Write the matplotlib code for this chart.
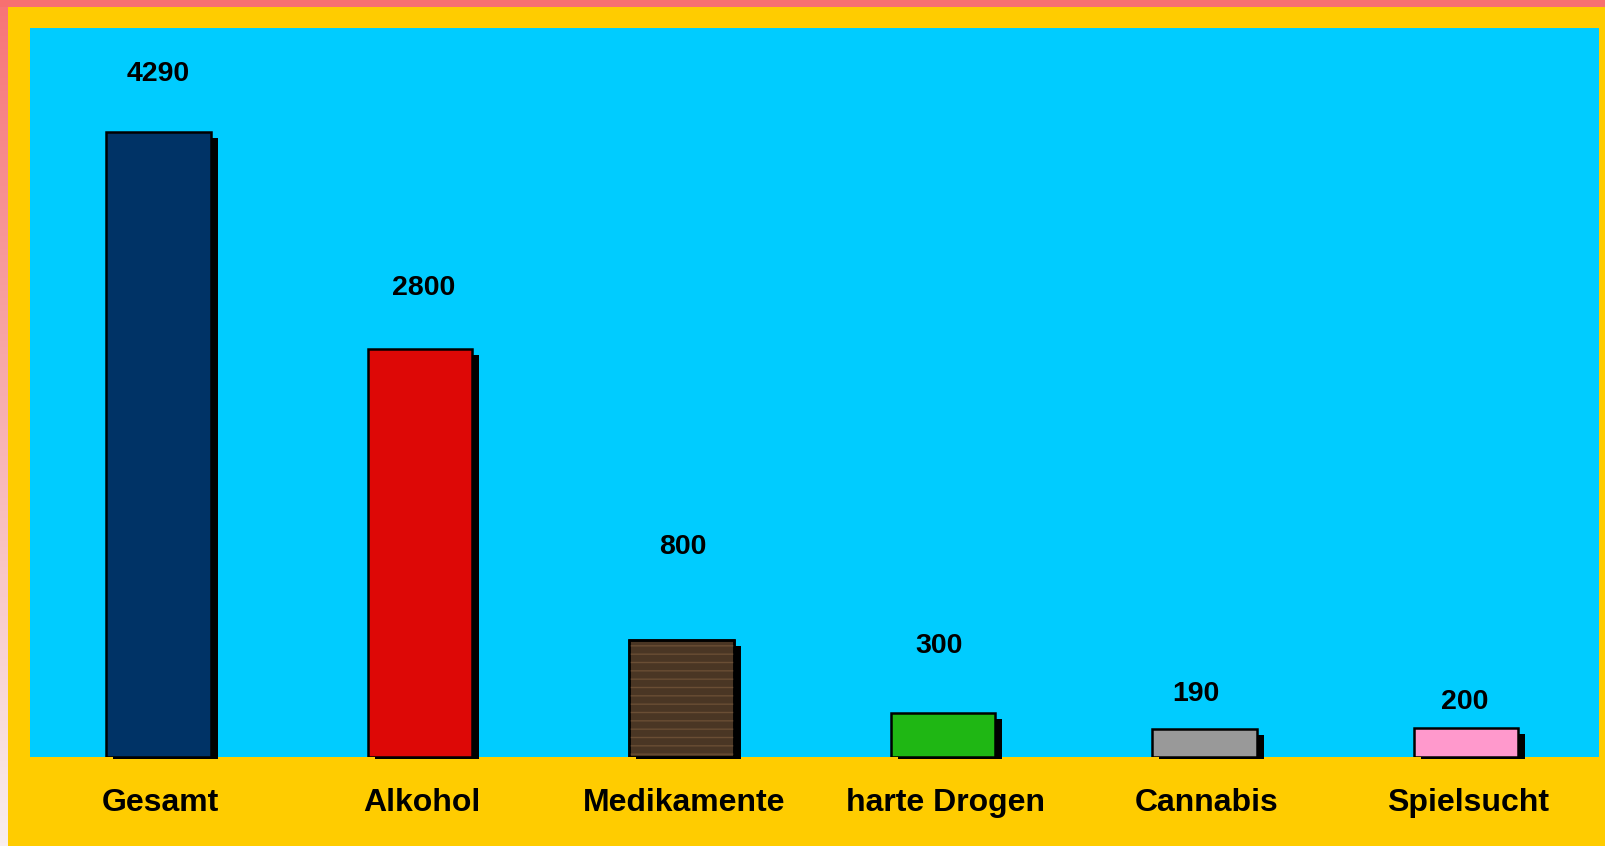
import numpy as np
import matplotlib
matplotlib.use("Agg")
import matplotlib.pyplot as plt
from matplotlib.transforms import ScaledTranslation

# data
categories = ["Gesamt", "Alkohol", "Medikamente", "harte Drogen", "Cannabis", "Spielsucht"]
values = [4290, 2800, 800, 300, 190, 200]
bar_colors = ["#003366", "#DD0806", "#4A3624", "#1FB714", "#999999", "#FF99CC"]
# value labels do not sit at a fixed gap above the bars in the original
label_y = [4684, 3220, 1443, 762, 431, 375]
label_dx = [0.0, 0.015, 0.004, -0.015, -0.035, -0.004]

W, H = 1605, 846
fig = plt.figure(figsize=(W / 100, H / 100), dpi=100)
fig.patch.set_facecolor("#FFCC00")

# coral strip on top, fading strip on the left
top = fig.add_axes([0, 1 - 7 / H, 1, 7 / H])
top.set_axis_off()
top.add_patch(plt.Rectangle((0, 0), 1, 1, color="#F77070", transform=top.transAxes))
left = fig.add_axes([0, 0, 8 / W, 1 - 7 / H])
grad = np.linspace(0, 1, 256).reshape(-1, 1)
c0 = np.array([0xF7, 0x75, 0x78]) / 255
c1 = np.array([0xF9, 0xEE, 0xEE]) / 255
img = c0[None, None, :] * (1 - grad[..., None]) + c1[None, None, :] * grad[..., None]
left.imshow(img, aspect="auto", extent=[0, 1, 0, 1])
left.set_axis_off()

ax = fig.add_axes([30 / W, (H - 757) / H, (1599 - 30) / W, (757 - 28) / H])
ax.set_facecolor("#00CCFF")
for s in ax.spines.values():
    s.set_visible(False)

x = np.arange(len(categories))
bw = 0.40

# drop shadows (7px right, 6px down), ending just below the baseline
shadow = ax.transData + ScaledTranslation(7 / 100, -6 / 100, fig.dpi_scale_trans)
ax.bar(x, np.array(values) - 25, bw, bottom=25, color="black", transform=shadow,
       clip_on=False, zorder=2)

ax.bar(x, values, bw, color=bar_colors, edgecolor="black", linewidth=1.8, zorder=3)
# wood grain look on Medikamente
ax.bar(x[2], values[2], bw, color="none", edgecolor="#6A4E34", hatch="--",
       linewidth=0, zorder=3.5)
ax.bar(x[2], values[2], bw, color="none", edgecolor="black", linewidth=1.8, zorder=4)

for xi, v, ly, dx in zip(x, values, label_y, label_dx):
    ax.text(xi + dx, ly, str(v), ha="center", va="center", fontsize=20.5,
            fontweight="bold", family="Liberation Sans")

ax.set_xlim(-0.492, 5.508)
ax.set_ylim(0, 5000)
ax.set_yticks([])
ax.set_xticks(x)
ax.set_xticklabels(categories, fontsize=23, fontweight="bold", family="Liberation Sans")
ax.tick_params(axis="x", length=0, pad=22)
# category names sit a few pixels right of the bar centres
shift = ScaledTranslation(2 / 100, 0, fig.dpi_scale_trans)
for lab in ax.get_xticklabels():
    lab.set_transform(lab.get_transform() + shift)

fig.savefig("out.png", dpi=100, facecolor=fig.get_facecolor())
